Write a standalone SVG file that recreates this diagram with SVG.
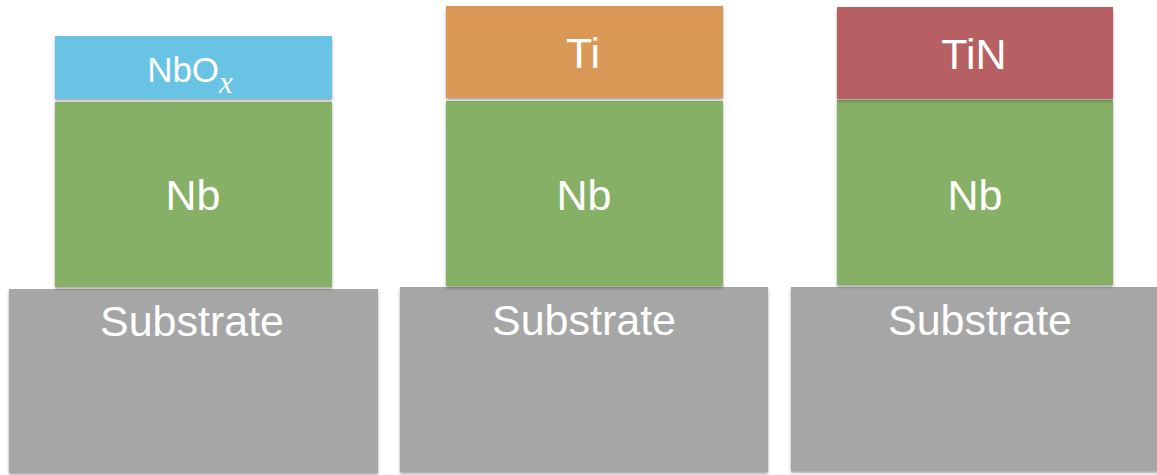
<svg xmlns="http://www.w3.org/2000/svg" width="1157" height="475" viewBox="0 0 1157 475">
  <defs>
    <filter id="shadow" x="-5%" y="-5%" width="110%" height="115%">
      <feDropShadow dx="0" dy="2" stdDeviation="1.5" flood-color="#000" flood-opacity="0.35"/>
    </filter>
  </defs>
  <style>
    .layer { filter: url(#shadow); }
    .nbox { fill: #69C3E4; }
    .ti { fill: #D99855; }
    .tin { fill: #B66163; }
    .nb { fill: #86B065; }
    .sub { fill: #A6A6A6; }
    .lbl { fill: #FFFFFF; font-family: "Liberation Sans", Arial, sans-serif; text-anchor: middle; }
    .big { font-size: 43px; }
    .mid { font-size: 43px; }
    .small { font-size: 35px; }
    .var { font-family: "Liberation Serif", "Times New Roman", serif; font-style: italic; font-size: 31px; }
  </style>

  <!-- Stack 1: NbOx / Nb / substrate -->
  <g id="stack1">
    <g id="substrate1">
      <rect class="layer sub" x="9" y="289" width="369" height="184"/>
      <text class="lbl big" x="192" y="336">Substrate</text>
    </g>
    <g id="nb1">
      <rect class="layer nb" x="55" y="102" width="277" height="185"/>
      <text class="lbl big" x="193" y="210">Nb</text>
    </g>
    <g id="nbox1">
      <rect class="layer nbox" x="55" y="36" width="277" height="63"/>
      <text class="lbl small" x="190" y="82">NbO<tspan class="var" dy="11">x</tspan></text>
    </g>
  </g>

  <!-- Stack 2: Ti / Nb / substrate -->
  <g id="stack2">
    <g id="substrate2">
      <rect class="layer sub" x="400" y="287" width="368" height="185"/>
      <text class="lbl big" x="584" y="335">Substrate</text>
    </g>
    <g id="nb2">
      <rect class="layer nb" x="446" y="101" width="277" height="185"/>
      <text class="lbl big" x="584" y="210">Nb</text>
    </g>
    <g id="ti2">
      <rect class="layer ti" x="446" y="6" width="277" height="92"/>
      <text class="lbl mid" x="583" y="68">Ti</text>
    </g>
  </g>

  <!-- Stack 3: TiN / Nb / substrate -->
  <g id="stack3">
    <g id="substrate3">
      <rect class="layer sub" x="791" y="287" width="370" height="184"/>
      <text class="lbl big" x="980" y="335">Substrate</text>
    </g>
    <g id="nb3">
      <rect class="layer nb" x="837" y="100" width="276" height="185"/>
      <text class="lbl big" x="975" y="210">Nb</text>
    </g>
    <g id="tin3">
      <rect class="layer tin" x="837" y="7" width="276" height="92"/>
      <text class="lbl mid" x="974" y="69">TiN</text>
    </g>
  </g>

  <!-- no connectors in this drawing -->
  <g id="connectors"/>
</svg>
